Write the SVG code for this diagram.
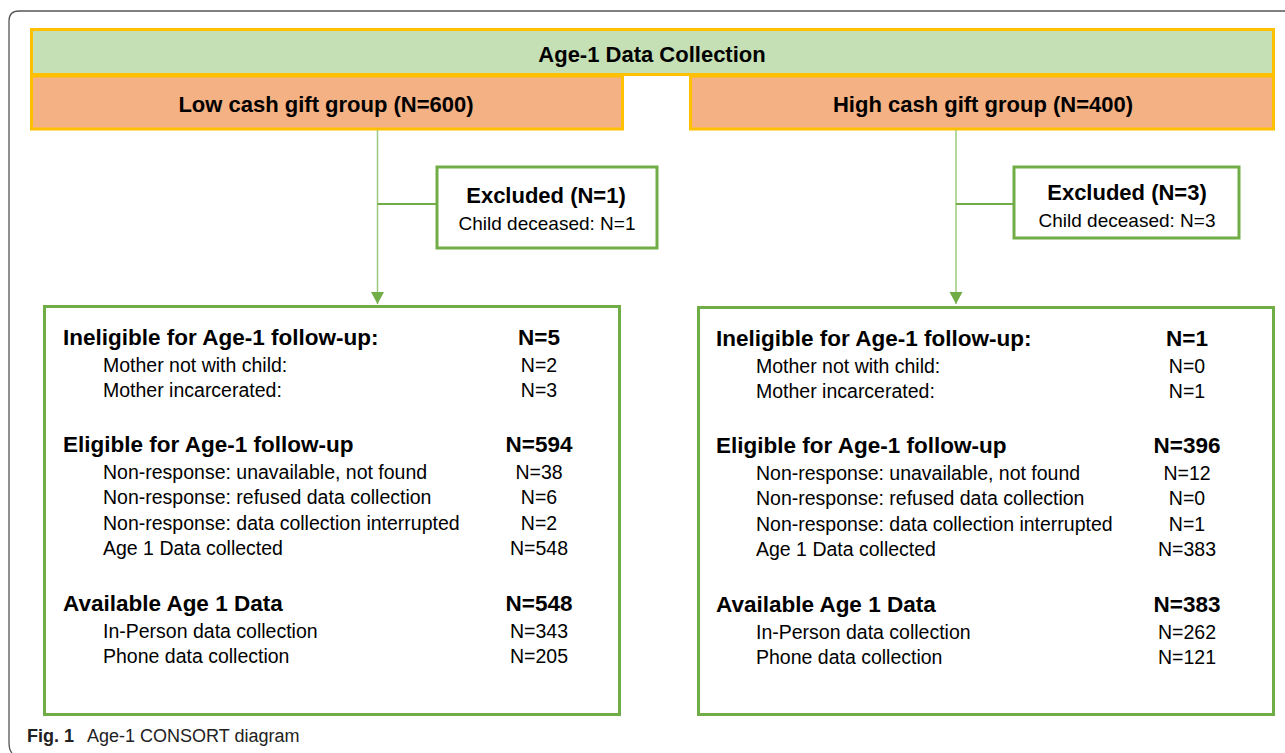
<svg xmlns="http://www.w3.org/2000/svg" width="1285" height="753" viewBox="0 0 1285 753">
<style>
text{font-family:"Liberation Sans",Arial,sans-serif;fill:#000}
.h{font-size:22px;font-weight:bold}
.r{font-size:19px}
.bh{font-size:22.5px;font-weight:bold}
.br{font-size:19.5px}
.c{text-anchor:middle}
.top{fill:#C5E0B4;stroke:#FFC000;stroke-width:3}
.grp{fill:#F4B183;stroke:#FFC000;stroke-width:3}
.box{fill:#fff;stroke:#70AD47;stroke-width:3}
.vline{stroke:#9BCB7E;stroke-width:1.5;fill:none}
.bline{stroke:#70AD47;stroke-width:2;fill:none}
.cap{font-size:18px;fill:#222}
</style>
<path d="M1285 11 H19 Q9 11 9 21 V742 Q9 750 12 753" fill="none" stroke="#555" stroke-width="1.3"/>
<g id="collection">
<rect class="top" x="31.5" y="29.5" width="1242" height="45"/>
<text class="h c" x="652" y="62">Age-1 Data Collection</text>
</g>
<g id="low-group">
<rect class="grp" x="31.5" y="76" width="591" height="53"/>
<text class="h c" x="326" y="112">Low cash gift group (N=600)</text>
</g>
<g id="high-group">
<rect class="grp" x="690.5" y="76" width="583" height="53"/>
<text class="h c" x="983" y="112">High cash gift group (N=400)</text>
</g>
<g id="connectors">
<path class="vline" d="M377.5 130 V304"/>
<polygon points="371,292 384,292 377.5,304" fill="#70AD47"/>
<path class="bline" d="M377.5 204 H436"/>
<path class="vline" d="M956 130 V304"/>
<polygon points="949.5,292 962.5,292 956,304" fill="#70AD47"/>
<path class="bline" d="M956 204 H1013"/>
</g>
<g id="excluded-low">
<rect class="box" x="437" y="167" width="220" height="81"/>
<text class="h c" x="546" y="203">Excluded (N=1)</text>
<text class="r c" x="547" y="230">Child deceased: N=1</text>
</g>
<g id="excluded-high">
<rect class="box" x="1014" y="167" width="225" height="71"/>
<text class="h c" x="1127" y="200">Excluded (N=3)</text>
<text class="r c" x="1127" y="227">Child deceased: N=3</text>
</g>
<g id="low-outcome">
<rect class="box" x="44.5" y="306.5" width="575" height="408"/>
<text class="bh" x="63" y="345">Ineligible for Age-1 follow-up:</text>
<text class="bh c" x="539" y="345">N=5</text>
<text class="br" x="103" y="372">Mother not with child:</text>
<text class="br c" x="539" y="372">N=2</text>
<text class="br" x="103" y="397">Mother incarcerated:</text>
<text class="br c" x="539" y="397">N=3</text>
<text class="bh" x="63" y="452">Eligible for Age-1 follow-up</text>
<text class="bh c" x="539" y="452">N=594</text>
<text class="br" x="103" y="479">Non-response: unavailable, not found</text>
<text class="br c" x="539" y="479">N=38</text>
<text class="br" x="103" y="504">Non-response: refused data collection</text>
<text class="br c" x="539" y="504">N=6</text>
<text class="br" x="103" y="530">Non-response: data collection interrupted</text>
<text class="br c" x="539" y="530">N=2</text>
<text class="br" x="103" y="555">Age 1 Data collected</text>
<text class="br c" x="539" y="555">N=548</text>
<text class="bh" x="63" y="611">Available Age 1 Data</text>
<text class="bh c" x="539" y="611">N=548</text>
<text class="br" x="103" y="638">In-Person data collection</text>
<text class="br c" x="539" y="638">N=343</text>
<text class="br" x="103" y="663">Phone data collection</text>
<text class="br c" x="539" y="663">N=205</text>
</g>
<g id="high-outcome">
<rect class="box" x="698.5" y="307.5" width="575" height="407"/>
<text class="bh" x="716" y="346">Ineligible for Age-1 follow-up:</text>
<text class="bh c" x="1187" y="346">N=1</text>
<text class="br" x="756" y="373">Mother not with child:</text>
<text class="br c" x="1187" y="373">N=0</text>
<text class="br" x="756" y="398">Mother incarcerated:</text>
<text class="br c" x="1187" y="398">N=1</text>
<text class="bh" x="716" y="453">Eligible for Age-1 follow-up</text>
<text class="bh c" x="1187" y="453">N=396</text>
<text class="br" x="756" y="480">Non-response: unavailable, not found</text>
<text class="br c" x="1187" y="480">N=12</text>
<text class="br" x="756" y="505">Non-response: refused data collection</text>
<text class="br c" x="1187" y="505">N=0</text>
<text class="br" x="756" y="531">Non-response: data collection interrupted</text>
<text class="br c" x="1187" y="531">N=1</text>
<text class="br" x="756" y="556">Age 1 Data collected</text>
<text class="br c" x="1187" y="556">N=383</text>
<text class="bh" x="716" y="612">Available Age 1 Data</text>
<text class="bh c" x="1187" y="612">N=383</text>
<text class="br" x="756" y="639">In-Person data collection</text>
<text class="br c" x="1187" y="639">N=262</text>
<text class="br" x="756" y="664">Phone data collection</text>
<text class="br c" x="1187" y="664">N=121</text>
</g>
<text class="cap" x="27" y="742"><tspan font-weight="bold">Fig. 1</tspan><tspan x="87">Age-1 CONSORT diagram</tspan></text>
</svg>
